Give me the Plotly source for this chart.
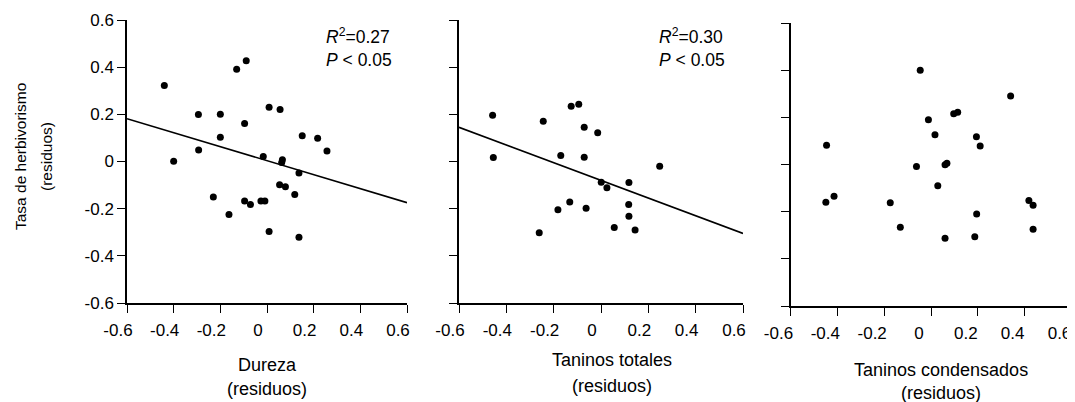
import numpy as np
import plotly.graph_objects as go

# ---------------- data ----------------
dureza_x = [-0.44, -0.13, -0.089, -0.294, -0.20, -0.096, -0.20, 0.009, 0.056, 0.151,
            0.217, 0.257, -0.293, -0.40, -0.016, 0.066, 0.063, 0.137, 0.054, 0.079,
            0.119, -0.23, -0.096, -0.071, -0.026, -0.009, -0.163, 0.009, 0.137]
dureza_y = [0.322, 0.391, 0.427, 0.199, 0.200, 0.161, 0.103, 0.230, 0.220, 0.109,
            0.099, 0.044, 0.049, 0.001, 0.021, 0.007, -0.004, -0.049, -0.099, -0.107,
            -0.140, -0.151, -0.168, -0.182, -0.168, -0.168, -0.225, -0.297, -0.321]

totales_x = [-0.458, -0.455, -0.244, -0.126, -0.094, -0.071, -0.014, -0.170, -0.071, 0.248,
             0.001, 0.025, 0.118, -0.132, -0.182, -0.063, 0.117, 0.118, 0.056, 0.144, -0.261]
totales_y = [0.196, 0.017, 0.171, 0.234, 0.243, 0.145, 0.122, 0.025, 0.018, -0.020,
             -0.088, -0.111, -0.089, -0.172, -0.205, -0.198, -0.182, -0.232, -0.280, -0.290, -0.302]

condensados_x = [-0.046, 0.340, 0.097, 0.114, -0.011, 0.017, 0.194, 0.210, -0.446, -0.062,
                 0.060, 0.068, 0.029, -0.414, -0.449, -0.174, 0.418, 0.436, 0.195, -0.131,
                 0.436, 0.060, 0.187]
condensados_y = [0.40, 0.290, 0.215, 0.222, 0.190, 0.126, 0.118, 0.078, 0.082, -0.008,
                 -0.001, 0.005, -0.090, -0.135, -0.160, -0.162, -0.153, -0.173, -0.210, -0.266,
                 -0.275, -0.313, -0.306]

fit_slope = [-0.297, -0.375]
fit_intercept = [0.0035, -0.080]

stat_r2 = ["0.27", "0.30"]
stat_p = ["0.05", "0.05"]

tick_vals = [-0.6, -0.4, -0.2, 0, 0.2, 0.4, 0.6]
tick_text = ["-0.6", "-0.4", "-0.2", "0", "0.2", "0.4", "0.6"]

x_titles = ["Dureza", "Taninos totales", "Taninos condensados"]
sub_title = "(residuos)"
y_title = "Tasa de herbivorismo"

# ---------------- layout geometry (page pixels) ----------------
PAGE_W, PAGE_H = 1075, 402
OFF = 8                      # default page (body) margin of the HTML document
W, H = PAGE_W, PAGE_H - OFF  # figure may run past the right edge of the window


def px(x):
    return (x - OFF) / W


def py(y):
    return 1 - (y - OFF) / H


x_dom_px = [(127, 407), (459, 743), (790.5, 1071.5)]
y_dom_px = [(20, 303), (20, 303), (23, 306)]
label_shift = [-9, -9, -12]

FONT = "Liberation Sans, Arial, sans-serif"

fig = go.Figure()

panels = [(dureza_x, dureza_y), (totales_x, totales_y), (condensados_x, condensados_y)]
for i, (xs, ys) in enumerate(panels):
    sfx = "" if i == 0 else str(i + 1)
    fig.add_trace(go.Scatter(x=xs, y=ys, mode="markers",
                             marker=dict(size=7, color="black"),
                             xaxis="x" + sfx, yaxis="y" + sfx, showlegend=False))
    if i < 2:
        lx = np.array([-0.6, 0.6])
        ly = fit_intercept[i] + fit_slope[i] * lx
        fig.add_trace(go.Scatter(x=lx, y=ly, mode="lines",
                                 line=dict(color="black", width=1.6),
                                 xaxis="x" + sfx, yaxis="y" + sfx, showlegend=False))

layout = dict(width=W, height=H,
              margin=dict(l=0, r=0, t=0, b=0, pad=0, autoexpand=False),
              paper_bgcolor="white", plot_bgcolor="white",
              font=dict(family=FONT, color="black", size=17))

for i in range(3):
    sfx = "" if i == 0 else str(i + 1)
    x0, x1 = x_dom_px[i]
    yt, yb = y_dom_px[i]
    layout["xaxis" + sfx] = dict(
        domain=[px(x0), px(x1)], range=[-0.6, 0.6], anchor="y" + sfx,
        showline=True, linecolor="black", linewidth=1.5, showgrid=False, zeroline=False,
        ticks="outside", ticklen=8, tickwidth=1.3, tickcolor="black",
        tickvals=tick_vals, ticktext=tick_text, ticklabelstandoff=3,
        ticklabelshift=label_shift[i], ticklabeloverflow="allow",
        tickfont=dict(size=17, family=FONT), fixedrange=True, automargin=False)
    layout["yaxis" + sfx] = dict(
        domain=[py(yb), py(yt)], range=[-0.6, 0.6], anchor="x" + sfx,
        showline=True, linecolor="black", linewidth=1.5, showgrid=False, zeroline=False,
        ticks="outside", ticklen=8, tickwidth=1.3, tickcolor="black",
        tickvals=tick_vals, ticktext=tick_text, showticklabels=(i == 0),
        tickfont=dict(size=17, family=FONT), fixedrange=True, automargin=False)

annotations = []
# x-axis titles
title_cx = [267, 612, 941]
title_y1 = [365, 360, 370]
title_y2 = [389, 386, 393]
for i in range(3):
    annotations.append(dict(text=x_titles[i], x=px(title_cx[i]), y=py(title_y1[i]),
                            xref="paper", yref="paper", showarrow=False,
                            xanchor="center", yanchor="middle", font=dict(size=18)))
    annotations.append(dict(text=sub_title, x=px(title_cx[i]), y=py(title_y2[i]),
                            xref="paper", yref="paper", showarrow=False,
                            xanchor="center", yanchor="middle", font=dict(size=18)))
# y-axis title
annotations.append(dict(text=y_title, x=px(20), y=py(157), xref="paper", yref="paper",
                        showarrow=False, textangle=-90, xanchor="center", yanchor="middle",
                        font=dict(size=15.5)))
annotations.append(dict(text=sub_title, x=px(46), y=py(157), xref="paper", yref="paper",
                        showarrow=False, textangle=-90, xanchor="center", yanchor="middle",
                        font=dict(size=15.5)))
# statistics
stat_x = [324, 657]
for i in range(2):
    annotations.append(dict(text="<i>R</i><sup>2</sup>=" + stat_r2[i], x=px(stat_x[i]),
                            y=py(36), xref="paper", yref="paper", showarrow=False,
                            xanchor="left", yanchor="middle", align="left",
                            font=dict(size=17.5)))
    annotations.append(dict(text="<i>P</i> &lt; " + stat_p[i], x=px(stat_x[i]),
                            y=py(60), xref="paper", yref="paper", showarrow=False,
                            xanchor="left", yanchor="middle", align="left",
                            font=dict(size=17.5)))
layout["annotations"] = annotations

fig.update_layout(**layout)
fig.write_html("out.html")
